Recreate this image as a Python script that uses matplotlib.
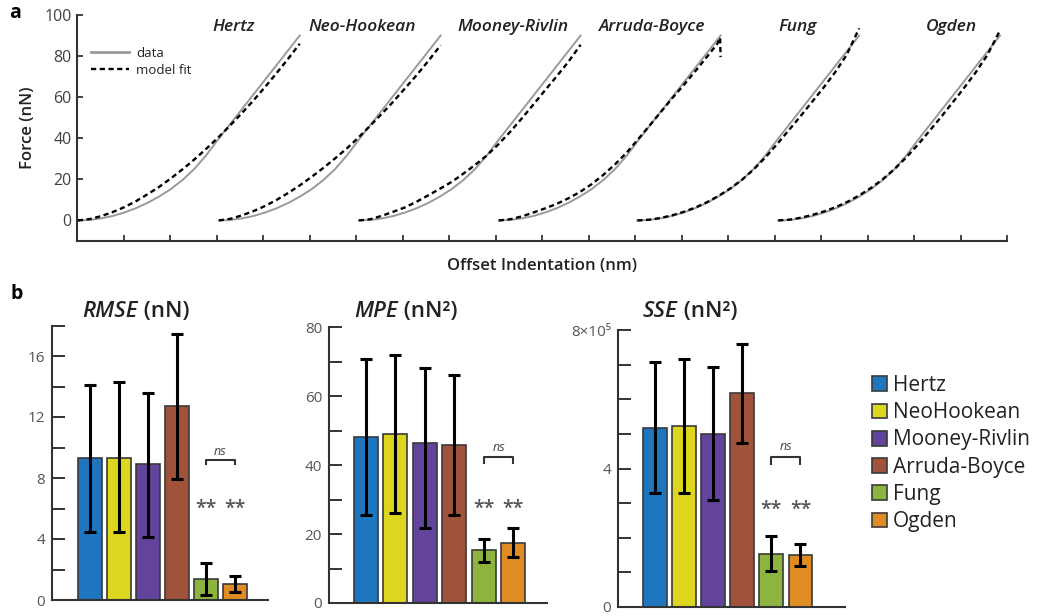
import matplotlib
matplotlib.use("Agg")
import matplotlib.pyplot as plt
from matplotlib.patches import Patch
from matplotlib.lines import Line2D

plt.rcParams['font.family'] = ['Open Sans', 'DejaVu Sans']

# ---------------- Panel a data (x in axis-tick units, force in nN) ----------------
model_titles = ['Hertz', 'Neo-Hookean', 'Mooney-Rivlin', 'Arruda-Boyce', 'Fung', 'Ogden']
curve_offsets = [0.02, 3.05, 6.06, 9.07, 12.05, 15.08]

indent_rel = [0, 0.25, 0.5, 0.75, 1.0, 1.25, 1.5, 1.75, 2.0, 2.25, 2.5, 2.75,
              3.0, 3.25, 3.5, 3.75, 4.0, 4.25, 4.5, 4.77]
force_data = [0, 0.25, 1.0, 2.2, 3.9, 6.0, 8.6, 11.7, 15.3, 19.7, 25.0, 31.5,
              39.0, 46.2, 53.4, 60.6, 67.8, 75.0, 82.2, 90.0]

fit_hertz = [0, 0.66, 2.1, 4.1, 6.5, 9.4, 12.8, 16.4, 20.5, 24.9, 29.6, 34.7,
             40.0, 45.7, 51.6, 57.8, 64.3, 71.1, 78.1, 86.0]
fit_neohookean = [0, 0.8, 2.5, 4.6, 7.1, 10.1, 13.5, 17.2, 21.3, 25.6, 30.2, 35.0,
                  40.3, 46.0, 51.8, 57.8, 64.2, 70.6, 77.5, 85.3]
fit_mooney = [0, 0.6, 2.3, 4.3, 6.4, 9.2, 12.3, 15.5, 18.8, 22.8, 27.0, 31.6,
              37.0, 43.0, 49.5, 56.3, 63.2, 70.0, 77.0, 85.5]
indent_arruda = [0, 0.25, 0.5, 0.75, 1.0, 1.25, 1.5, 1.75, 2.0, 2.25, 2.5, 2.75,
                 3.0, 3.25, 3.5, 3.75, 4.0, 4.25, 4.5, 4.70, 4.76, 4.77]
fit_arruda = [0, 0.6, 2.0, 3.9, 5.9, 8.1, 10.8, 13.9, 17.7, 22.2, 27.3, 33.0,
              39.6, 46.4, 53.2, 60.0, 66.5, 73.3, 80.3, 86.0, 89.0, 79.5]
fit_fung = [0, 0.35, 1.2, 2.5, 4.2, 6.3, 8.9, 12.0, 15.6, 19.8, 24.8, 30.6,
            37.0, 43.7, 50.5, 57.5, 64.5, 72.0, 80.5, 93.5]
fit_ogden = [0, 0.4, 1.4, 2.8, 4.5, 6.6, 9.2, 12.3, 15.9, 20.1, 25.0, 30.6,
             36.8, 43.5, 50.3, 57.4, 64.6, 72.2, 80.6, 92.5]

fit_x = [indent_rel, indent_rel, indent_rel, indent_arruda, indent_rel, indent_rel]
fit_y = [fit_hertz, fit_neohookean, fit_mooney, fit_arruda, fit_fung, fit_ogden]

# ---------------- Panel b data ----------------
models = ['Hertz', 'NeoHookean', 'Mooney-Rivlin', 'Arruda-Boyce', 'Fung', 'Ogden']
colors = ['#1e76be', '#ded51e', '#62449b', '#a0533a', '#8db43e', '#e08c25']

rmse_mean = [9.28, 9.32, 8.89, 12.71, 1.38, 1.05]
rmse_lo = [4.48, 4.43, 4.10, 7.93, 0.33, 0.50]
rmse_hi = [14.08, 14.30, 13.58, 17.42, 2.45, 1.59]

mpe_mean = [48.2, 49.0, 46.3, 45.8, 15.4, 17.3]
mpe_lo = [25.5, 26.0, 21.7, 25.4, 12.0, 13.2]
mpe_hi = [70.6, 71.8, 68.2, 66.2, 18.6, 21.7]

# SSE in units of 1e5 nN^2
sse_mean = [5.18, 5.22, 5.01, 6.17, 1.54, 1.51]
sse_lo = [3.28, 3.30, 3.10, 4.74, 1.04, 1.18]
sse_hi = [7.08, 7.16, 6.94, 7.61, 2.05, 1.83]

W, H = 1039, 616
fig = plt.figure(figsize=(W / 100, H / 100), dpi=100)
dark = '#333333'
tickc = '#404040'

def fx(px):
    return px / W

def fy(py):
    return 1 - py / H

# ---------------- Panel a ----------------
axa = fig.add_axes([fx(77), fy(241), fx(1007 - 77), (241 - 15) / H])
for off, xs, ys in zip(curve_offsets, fit_x, fit_y):
    axa.plot([off + v for v in indent_rel], force_data, color='#9a9a9a', lw=1.4, zorder=2)
    axa.plot([off + v for v in xs], ys, color='black', lw=1.7,
             linestyle=(0, (2.2, 1.5)), zorder=3)
axa.set_xlim(0, 20)
axa.set_ylim(-10, 100)
axa.set_xticks(range(0, 21))
axa.set_xticklabels([])
axa.set_yticks([0, 20, 40, 60, 80, 100])
for s in ['top', 'right']:
    axa.spines[s].set_visible(False)
for s in ['left', 'bottom']:
    axa.spines[s].set_linewidth(1.5)
    axa.spines[s].set_color(dark)
axa.tick_params(direction='in', length=4, width=1.3, color=dark, labelsize=11.5,
                labelcolor=tickc, pad=4)
axa.set_ylabel('Force (nN)', fontsize=12, weight='semibold', color='#222222', labelpad=6)
axa.set_xlabel('Offset Indentation (nm)', fontsize=12, weight='semibold', color='#222222', labelpad=8)

title_px = [233.5, 362, 512.5, 651.5, 798, 951.5]
for name, px in zip(model_titles, title_px):
    fig.text(fx(px), fy(27), name, style='italic', weight='semibold', fontsize=12.5,
             ha='center', va='center', color='#222222')

leg_handles = [Line2D([], [], color='#9a9a9a', lw=2.0),
               Line2D([], [], color='black', lw=1.7, linestyle=(0, (2.2, 1.5)))]
fig.legend(leg_handles, ['data', 'model fit'], loc='upper left',
           bbox_to_anchor=(fx(91), fy(47)), frameon=False, fontsize=9.5,
           handlelength=2.9, handletextpad=0.5, labelspacing=0.3, borderpad=0,
           borderaxespad=0, labelcolor='#222222')

fig.text(fx(15), fy(13), 'a', weight='bold', fontsize=14, ha='center', va='center')
fig.text(fx(17), fy(294), 'b', weight='bold', fontsize=14, ha='center', va='center')

# ---------------- Panel b ----------------
def bar_panel(rect, xlim, means, lows, highs, ylim, yticks, ylabels, star_y, ns_y, ns_drop):
    ax = fig.add_axes(rect)
    x = list(range(len(means)))
    yerr = [[m - l for m, l in zip(means, lows)], [h - m for m, h in zip(means, highs)]]
    ax.bar(x, means, width=0.82, color=colors, edgecolor='#3a3a3a', linewidth=1.2, zorder=2)
    ax.errorbar(x, means, yerr=yerr, fmt='none', ecolor='black', elinewidth=2.2,
                capsize=4, capthick=2.2, zorder=3)
    ax.set_xlim(*xlim)
    ax.set_ylim(*ylim)
    ax.set_xticks([])
    ax.set_yticks(yticks)
    ax.set_yticklabels(ylabels)
    for s in ['top', 'right']:
        ax.spines[s].set_visible(False)
    for s in ['left', 'bottom']:
        ax.spines[s].set_linewidth(1.5)
        ax.spines[s].set_color(dark)
    ax.tick_params(axis='y', direction='in', length=9, width=1.4, color=dark,
                   labelsize=11, labelcolor='#555555', pad=5)
    for xi in (4, 5):
        ax.text(xi, star_y, '**', ha='center', va='center', fontsize=14,
                color='#555555', weight='semibold')
    ax.plot([4, 4, 5, 5], [ns_y - ns_drop, ns_y, ns_y, ns_y - ns_drop], color='#333333',
            lw=1.5, zorder=3)
    ax.text(4.5, ns_y + ns_drop * 0.5, 'ns', ha='center', va='bottom', style='italic',
            fontsize=9, color='#444444')
    return ax

ax1 = bar_panel([fx(52), fy(600), fx(268 - 52), (600 - 325.5) / H], (-1.31, 6.14),
                rmse_mean, rmse_lo, rmse_hi, (0, 18), list(range(0, 19, 2)),
                ['0', '', '4', '', '8', '', '12', '', '16', ''], 6.0, 9.17, 0.25)
ax2 = bar_panel([fx(329), fy(603), fx(547 - 329), (603 - 327) / H], (-1.25, 6.14),
                mpe_mean, mpe_lo, mpe_hi, (0, 80), list(range(0, 81, 10)),
                ['0', '', '20', '', '40', '', '60', '', '80'], 27.2, 42.4, 1.8)
ax3 = bar_panel([fx(618), fy(607), fx(845 - 618), (607 - 330) / H], (-1.27, 6.53),
                sse_mean, sse_lo, sse_hi, (0, 8), list(range(0, 9)),
                ['0', '', '', '', '4', '', '', '', '8×10⁵'], 2.81, 4.34, 0.2)

# mixed-style titles
renderer = fig.canvas.get_renderer()
titles = [(135.5, 'RMSE', ' (nN)'), (406, 'MPE', ' (nN²)'), (690, 'SSE', ' (nN²)')]
for xc, ital, rest in titles:
    t1 = fig.text(0, fy(312), ital, style='italic', weight='semibold', fontsize=16,
                  ha='left', va='center', color='#222222')
    t2 = fig.text(0, fy(312), rest, weight='semibold', fontsize=16,
                  ha='left', va='center', color='#222222')
    w1 = t1.get_window_extent(renderer).width
    w2 = t2.get_window_extent(renderer).width
    x0 = xc - (w1 + w2) / 2
    t1.set_x(fx(x0))
    t2.set_x(fx(x0 + w1))

# legend for models
handles = [Patch(facecolor=c, edgecolor='#3a3a3a', linewidth=1.2) for c in colors]
fig.legend(handles, models, loc='upper left', bbox_to_anchor=(fx(872), fy(375)),
           frameon=False, fontsize=15, handlelength=0.72, handleheight=0.72,
           handletextpad=0.3, labelspacing=0.3, borderpad=0, borderaxespad=0,
           labelcolor='#222222')

fig.savefig('out.png', dpi=100, facecolor='white')
